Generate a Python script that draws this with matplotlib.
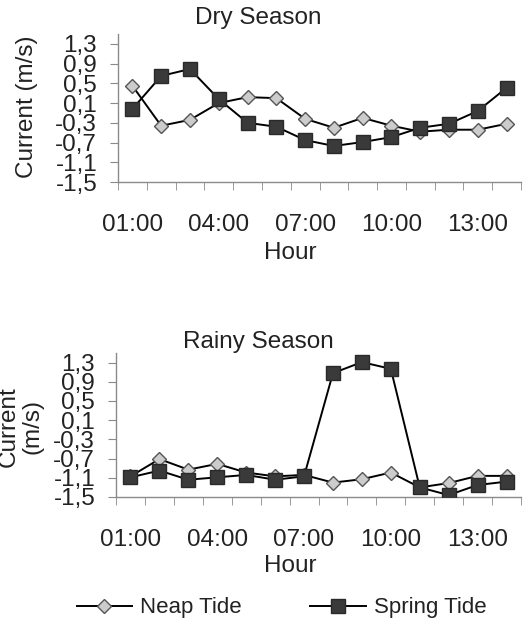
import numpy as np
import matplotlib.pyplot as plt

plt.rcParams['font.family'] = ['Liberation Sans', 'DejaVu Sans']

hours = ['01:00', '02:00', '03:00', '04:00', '05:00', '06:00', '07:00',
         '08:00', '09:00', '10:00', '11:00', '12:00', '13:00', '14:00']

dry_neap = [0.45, -0.36, -0.24, 0.10, 0.22, 0.20, -0.22,
            -0.40, -0.20, -0.36, -0.48, -0.44, -0.44, -0.32]
dry_spring = [-0.02, 0.65, 0.79, 0.18, -0.30, -0.38, -0.65,
              -0.77, -0.69, -0.59, -0.40, -0.32, -0.06, 0.41]

rainy_neap = [-1.07, -0.71, -0.93, -0.81, -0.99, -1.07, -1.04,
              -1.20, -1.13, -0.99, -1.30, -1.21, -1.06, -1.06]
rainy_spring = [-1.09, -0.95, -1.14, -1.09, -1.04, -1.14, -1.07,
                1.08, 1.31, 1.17, -1.30, -1.46, -1.25, -1.18]

yticks = [-1.5, -1.1, -0.7, -0.3, 0.1, 0.5, 0.9, 1.3]
ytick_labels = ['-1,5', '-1,1', '-0,7', '-0,3', '0,1', '0,5', '0,9', '1,3']

W, H = 532, 624
fig = plt.figure(figsize=(W / 100, H / 100), dpi=100)

txt = '#222222'
axc = '#8a8a8a'
fs = 17.5


def px_axes(left, right, top, bottom):
    return fig.add_axes([left / W, 1 - bottom / H, (right - left) / W, (bottom - top) / H])


def draw(ax, neap, spring):
    x = np.arange(1, len(hours) + 1)
    ax.plot(x, neap, color='black', lw=1.4, marker='D', ms=7.5,
            mfc='#cccccc', mec='#555555', mew=1, label='Neap Tide', zorder=3)
    ax.plot(x, spring, color='black', lw=1.4, marker='s', ms=9.5,
            mfc='#3a3a3a', mec='#2a2a2a', mew=1, label='Spring Tide', zorder=4)
    ax.set_xlim(0.5, len(hours) + 0.5)
    ax.set_ylim(-1.5, 1.5)
    ax.set_yticks(yticks)
    ax.set_yticklabels(ytick_labels)
    ax.set_xticks(x[::3])
    ax.set_xticklabels(hours[::3])
    ax.set_xticks(np.arange(0.5, len(hours) + 1, 1), minor=True)
    ax.tick_params(axis='x', which='major', length=0, pad=23, labelsize=fs, labelcolor=txt)
    ax.tick_params(axis='x', which='minor', length=6, color=axc, direction='out')
    ax.tick_params(axis='y', length=6, color=axc, direction='out', pad=9,
                   labelsize=fs, labelcolor=txt)
    for s in ['top', 'right']:
        ax.spines[s].set_visible(False)
    for s in ['left', 'bottom']:
        ax.spines[s].set_color(axc)
        ax.spines[s].set_linewidth(1)


ax1 = px_axes(118, 521, 34, 182)
draw(ax1, dry_neap, dry_spring)
ax2 = px_axes(116, 521, 353, 497)
draw(ax2, rainy_neap, rainy_spring)


def ftext(x, y, s, **kw):
    fig.text(x / W, 1 - y / H, s, ha='center', va='center', fontsize=fs, color=txt, **kw)


ftext(258, 18, 'Dry Season')
ftext(258, 342, 'Rainy Season')
ftext(290, 253, 'Hour')
ftext(290, 566, 'Hour')
ftext(27, 107, 'Current (m/s)', rotation=90)
ftext(21, 427, 'Current\n(m/s)', rotation=90, linespacing=1.1)

handles, labels = ax1.get_legend_handles_labels()
fig.legend(handles, labels, loc='center', bbox_to_anchor=(0.529, 1 - 608 / H),
           ncol=2, frameon=False, fontsize=fs - 1.5, handlelength=2.5,
           columnspacing=3.1, handletextpad=0.35, labelcolor=txt)

fig.savefig('out.png', dpi=100)
